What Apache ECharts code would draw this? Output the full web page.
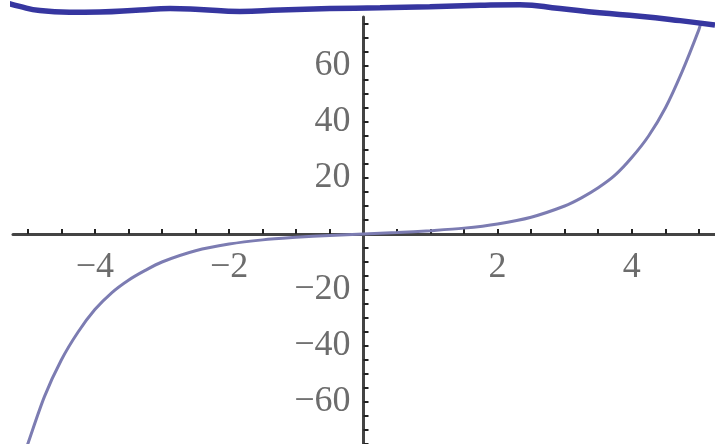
<!DOCTYPE html>
<html>
<head>
<meta charset="utf-8">
<script src="https://cdn.jsdelivr.net/npm/echarts@6/dist/echarts.min.js"></script>
<style>
  html, body { margin: 0; padding: 0; background: #fff; }
  #plot { width: 715px; height: 444px; }
</style>
</head>
<body>
<div id="plot"></div>
<script>
// curve
var curveX = [-5.1, -5, -4.75, -4.5, -4.25, -4, -3.75, -3.5, -3.25, -3, -2.5, -2, -1.5, -1, -0.5,
              0, 0.5, 1, 1.5, 2, 2.5, 3, 3.25, 3.5, 3.75, 4, 4.25, 4.5, 4.75, 5, 5.03];
var curveY = [-82, -75, -58, -45, -35, -27, -21, -16.5, -13, -10, -6, -3.6, -2.1, -1.2, -0.5,
              0, 0.5, 1.2, 2.1, 3.6, 6, 10, 12.9, 16.5, 21, 27.3, 35, 45, 58, 73, 75.5];

// the thick wavy line along the top edge
var waveX = [-5.42, -5.12, -4.82, -4.38, -3.93, -3.33, -2.88, -2.44, -1.84, -1.24, -0.5,
             0.25, 0.99, 1.74, 2.33, 2.93, 3.52, 4.12, 4.72, 5.24];
var waveY = [83.3, 81.3, 79.8, 79.2, 79.3, 80.0, 80.5, 80.2, 79.5, 80.0, 80.5,
             80.8, 81.2, 81.7, 81.9, 80.5, 79, 77.8, 76.2, 74.6];

var xTicks = [-5, -4.5, -4, -3.5, -3, -2.5, -2, -1.5, -1, -0.5, 0.5, 1, 1.5, 2, 2.5, 3, 3.5, 4, 4.5, 5];
var xLabels = [-4, -2, 2, 4];
var yTicks = [-75, -70, -65, -60, -55, -50, -45, -40, -35, -30, -25, -20, -15, -10, -5,
              5, 10, 15, 20, 25, 30, 35, 40, 45, 50, 55, 60, 65, 70, 75];
var yLabels = [-60, -40, -20, 20, 40, 60];

function pairs(xs, ys) {
    return xs.map(function (x, i) { return [x, ys[i]]; });
}

var labelStyle = {
    color: '#6c6c6c',
    fontFamily: 'Liberation Serif',
    fontSize: 36,
    formatter: function (v) { return String(v).replace('-', '\u2212'); }
};

var chart = echarts.init(document.getElementById('plot'));

chart.setOption({
    animation: false,
    grid: { left: 13, right: 0, top: 17, bottom: 0, containLabel: false, outerBoundsMode: 'none' },
    xAxis: {
        type: 'value',
        position: 'bottom',
        offset: -210,
        min: -5.22,
        max: 5.24,
        splitLine: { show: false },
        axisLine: { onZero: false, lineStyle: { color: '#444', width: 3 } },
        axisTick: { show: true, inside: true, length: 5, customValues: xTicks,
                    lineStyle: { color: '#222', width: 2 } },
        axisLabel: Object.assign({ customValues: xLabels, margin: 16 }, labelStyle)
    },
    yAxis: {
        type: 'value',
        position: 'left',
        offset: -350.5,
        min: -75,
        max: 77.5,
        splitLine: { show: false },
        axisLine: { onZero: false, lineStyle: { color: '#444', width: 3 } },
        axisTick: { show: true, inside: true, length: 5, customValues: yTicks,
                    lineStyle: { color: '#222', width: 2 } },
        axisLabel: Object.assign({ customValues: yLabels, margin: 13 }, labelStyle)
    },
    series: [
        {
            type: 'line',
            data: pairs(curveX, curveY),
            smooth: 0.3,
            showSymbol: false,
            lineStyle: { color: '#7c7cb2', width: 3 }
        },
        {
            type: 'line',
            data: pairs(waveX, waveY),
            smooth: true,
            showSymbol: false,
            clip: false,
            lineStyle: { color: '#3636a0', width: 5.5 }
        }
    ]
});
</script>
</body>
</html>
